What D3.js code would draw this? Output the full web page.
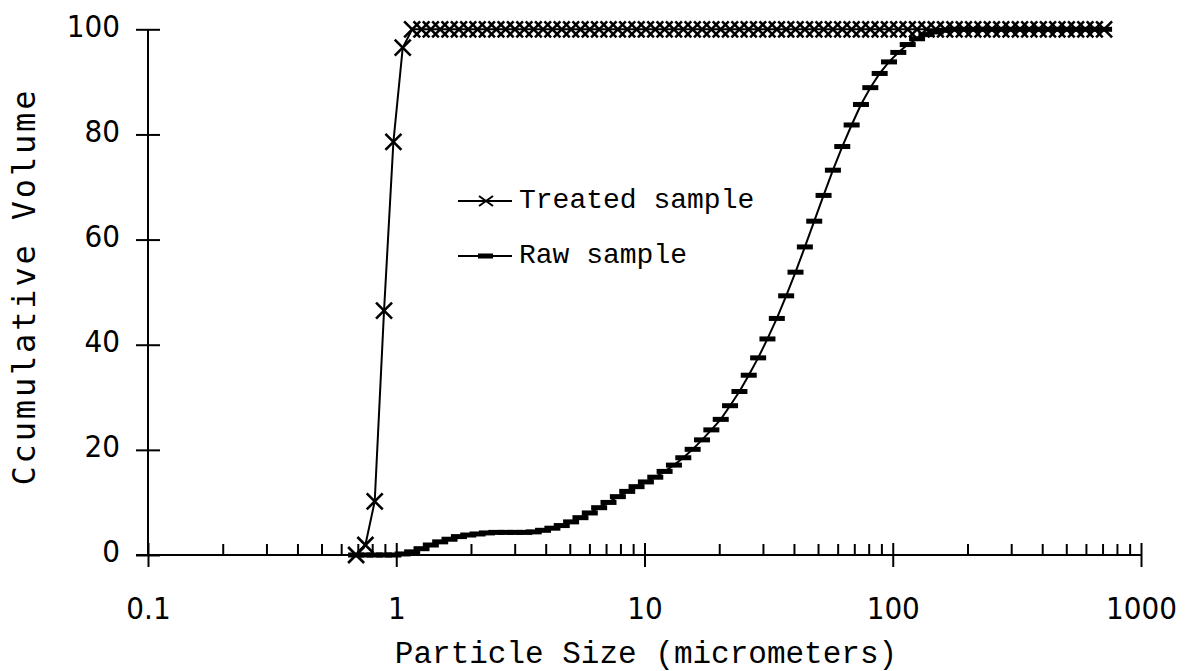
<!DOCTYPE html>
<html>
<head>
<meta charset="utf-8">
<script src="https://cdn.jsdelivr.net/npm/d3@7"></script>
<style>
  body { margin: 0; background: #fff; }
  svg { display: block; }
  .tick text { font-family: "DejaVu Sans Condensed", "DejaVu Sans", sans-serif; font-stretch: condensed; font-size: 31px; fill: #000; }
</style>
</head>
<body>
<div id="viz"></div>
<script>
// particle size bins (micrometers)
const sizes = [0.689, 0.751, 0.819, 0.893, 0.974, 1.062, 1.159, 1.264, 1.378, 1.503,
  1.639, 1.788, 1.950, 2.126, 2.319, 2.529, 2.758, 3.008, 3.281, 3.578,
  3.902, 4.256, 4.641, 5.062, 5.521, 6.021, 6.566, 7.161, 7.810, 8.518,
  9.289, 10.13, 11.05, 12.05, 13.14, 14.33, 15.63, 17.05, 18.59, 20.28,
  22.11, 24.12, 26.30, 28.69, 31.28, 34.12, 37.21, 40.58, 44.26, 48.27,
  52.64, 57.41, 62.61, 68.29, 74.47, 81.22, 88.58, 96.59, 105.3, 114.9,
  125.3, 136.7, 149.0, 162.5, 177.3, 193.3, 210.9, 230.0, 250.8, 273.5,
  298.3, 325.3, 354.8, 386.9, 422.0, 460.2, 501.9, 547.4, 597.0, 651.0, 710.0];

const treated = [0, 1.9, 10.2, 46.5, 78.6, 96.5, 100, 100, 100, 100,
  100, 100, 100, 100, 100, 100, 100, 100, 100, 100,
  100, 100, 100, 100, 100, 100, 100, 100, 100, 100,
  100, 100, 100, 100, 100, 100, 100, 100, 100, 100,
  100, 100, 100, 100, 100, 100, 100, 100, 100, 100,
  100, 100, 100, 100, 100, 100, 100, 100, 100, 100,
  100, 100, 100, 100, 100, 100, 100, 100, 100, 100,
  100, 100, 100, 100, 100, 100, 100, 100, 100, 100, 100];

const raw = [0, 0, 0, 0, 0, 0.2, 0.6, 1.2, 1.9, 2.5,
  3.0, 3.5, 3.8, 4.0, 4.2, 4.3, 4.3, 4.3, 4.3, 4.4,
  4.7, 5.1, 5.6, 6.3, 7.1, 8.0, 9.0, 10.0, 11.1, 12.1,
  13.0, 13.9, 14.8, 15.9, 17.1, 18.5, 20.1, 21.9, 23.8, 25.8,
  28.4, 31.1, 34.2, 37.5, 41.1, 45.0, 49.3, 53.8, 58.6, 63.5,
  68.4, 73.2, 77.7, 81.8, 85.7, 88.9, 91.6, 93.8, 95.6, 97.1,
  98.2, 99.0, 99.5, 99.8, 100, 100, 100, 100, 100, 100,
  100, 100, 100, 100, 100, 100, 100, 100, 100, 100, 100];

const xMajor = [0.1, 1, 10, 100, 1000];
const xMinor = [];
[0.1, 1, 10, 100].forEach(d => { for (let m = 2; m <= 9; m++) xMinor.push(d * m); });
const yTicks = [0, 20, 40, 60, 80, 100];

const width = 1186, height = 671;
const svg = d3.select("#viz").append("svg")
    .attr("width", width)
    .attr("height", height);

const x = d3.scaleLog().domain([0.1, 1000]).range([148, 1141]);
const y = d3.scaleLinear().domain([0, 100]).range([555, 29.3]);

// minor ticks (upward only)
svg.append("g")
    .attr("transform", `translate(0,${y(0)})`)
    .call(d3.axisTop(x).tickValues(xMinor).tickSize(11).tickFormat(""))
    .call(g => g.select(".domain").remove())
    .call(g => g.selectAll("line").attr("stroke", "#000").attr("stroke-width", 2));

// major x ticks crossing the axis
svg.append("g")
    .attr("transform", `translate(0,${y(0)})`)
    .call(d3.axisBottom(x).tickValues(xMajor).tickSize(12).tickPadding(30).tickFormat(d => String(d)))
    .call(g => g.select(".domain").remove())
    .call(g => g.selectAll("line").attr("y1", -12).attr("y2", 12).attr("stroke", "#000").attr("stroke-width", 2))
    .call(g => g.selectAll("text").attr("dy", "0.71em"));

svg.append("line")
    .attr("x1", 136).attr("x2", x(1000))
    .attr("y1", y(0)).attr("y2", y(0))
    .attr("stroke", "#000").attr("stroke-width", 2);

// y axis
svg.append("g")
    .attr("transform", `translate(${x(0.1)},0)`)
    .call(d3.axisLeft(y).tickValues(yTicks).tickSize(12).tickPadding(16).tickFormat(d3.format("d")))
    .call(g => g.select(".domain").remove())
    .call(g => g.selectAll("line").attr("x1", -12).attr("x2", 12).attr("stroke", "#000").attr("stroke-width", 2))
    .call(g => g.selectAll("text").attr("dy", "0.22em"));

svg.append("line")
    .attr("x1", x(0.1)).attr("x2", x(0.1))
    .attr("y1", y(100)).attr("y2", y(0))
    .attr("stroke", "#000").attr("stroke-width", 2);

const line = d3.line()
    .x((d, i) => x(sizes[i]))
    .y(d => y(d));

// raw sample
svg.append("path")
    .datum(raw)
    .attr("fill", "none")
    .attr("stroke", "#000")
    .attr("stroke-width", 2)
    .attr("d", line);

svg.append("g").selectAll("rect")
    .data(raw)
    .join("rect")
    .attr("x", (d, i) => x(sizes[i]) - 8)
    .attr("y", d => y(d) - 2.5)
    .attr("width", 16)
    .attr("height", 5)
    .attr("fill", "#000");

// treated sample
svg.append("path")
    .datum(treated)
    .attr("fill", "none")
    .attr("stroke", "#000")
    .attr("stroke-width", 2)
    .attr("d", line);

const cross = 8;
svg.append("g").selectAll("path")
    .data(treated)
    .join("path")
    .attr("d", (d, i) => {
        const cx = x(sizes[i]), cy = y(d);
        return `M${cx - cross},${cy - cross}L${cx + cross},${cy + cross}M${cx - cross},${cy + cross}L${cx + cross},${cy - cross}`;
    })
    .attr("stroke", "#000")
    .attr("stroke-width", 2.6)
    .attr("fill", "none");

// legend
const legend = svg.append("g");
legend.append("line").attr("x1", 458).attr("x2", 512).attr("y1", 201).attr("y2", 201)
    .attr("stroke", "#000").attr("stroke-width", 2);
legend.append("path")
    .attr("d", "M479,196L493,206M479,206L493,196")
    .attr("stroke", "#000").attr("stroke-width", 2).attr("fill", "none");
legend.append("text").attr("x", 519).attr("y", 208)
    .attr("font-family", "Liberation Mono, monospace").attr("font-size", 28)
    .text("Treated sample");

legend.append("line").attr("x1", 458).attr("x2", 512).attr("y1", 256).attr("y2", 256)
    .attr("stroke", "#000").attr("stroke-width", 2);
legend.append("rect").attr("x", 478).attr("y", 253.5).attr("width", 15).attr("height", 5).attr("fill", "#000");
legend.append("text").attr("x", 519).attr("y", 263)
    .attr("font-family", "Liberation Mono, monospace").attr("font-size", 28)
    .text("Raw sample");

// axis titles
svg.append("text")
    .attr("x", 646).attr("y", 663)
    .attr("text-anchor", "middle")
    .attr("font-family", "Liberation Mono, monospace")
    .attr("font-size", 31)
    .text("Particle Size (micrometers)");

svg.append("text")
    .attr("transform", "translate(35,288) rotate(-90)")
    .attr("text-anchor", "middle")
    .attr("font-family", "DejaVu Sans Mono, monospace")
    .attr("font-size", 32)
    .attr("textLength", 395)
    .attr("lengthAdjust", "spacing")
    .text("Ccumulative Volume");
</script>
</body>
</html>
